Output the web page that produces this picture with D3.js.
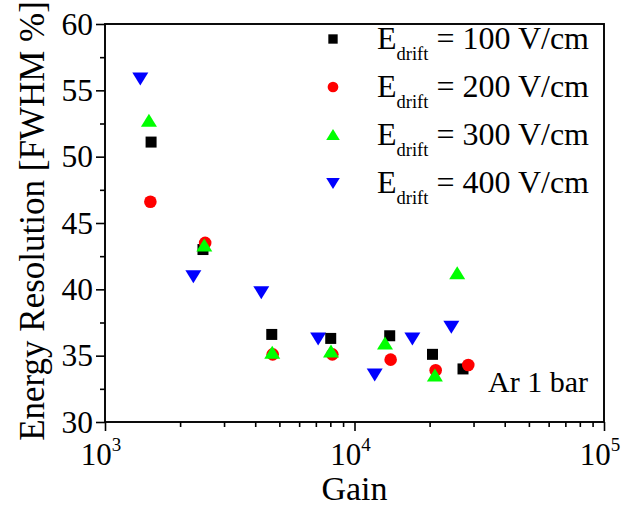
<!DOCTYPE html>
<html>
<head>
<meta charset="utf-8">
<script src="https://cdn.jsdelivr.net/npm/d3@7"></script>
<style>
  html, body { margin: 0; padding: 0; background: #fff; }
  svg { display: block; font-family: "Liberation Serif", "Times New Roman", serif; }
</style>
</head>
<body>
<svg id="chart" width="624" height="506"></svg>
<script>
// Energy resolution vs. gain at four drift fields (Ar, 1 bar)
const fields = [100, 200, 300, 400];
const gain100 = [1530, 2470, 4660, 8030, 13840, 20540, 27220];
const res100  = [51.1, 43.0, 36.6, 36.3, 36.5, 35.1, 34.0];
const gain200 = [1520, 2520, 4700, 8150, 13960, 21150, 28570];
const res200  = [46.6, 43.5, 35.1, 35.1, 34.7, 33.9, 34.3];
const gain300 = [1500, 2500, 4680, 8050, 13250, 21000, 25800];
const res300  = [52.7, 43.3, 35.2, 35.3, 35.9, 33.5, 41.2];
const gain400 = [1385, 2260, 4230, 7150, 12050, 17060, 24440];
const res400  = [55.9, 41.0, 39.8, 36.3, 33.6, 36.3, 37.2];

const xMajor = [1e3, 1e4, 1e5];
const xExponents = [3, 4, 5];
const yMajor = [30, 35, 40, 45, 50, 55, 60];

const series = [
  { field: fields[3], gain: gain400, res: res400, shape: "down",   color: "#0000ff" },
  { field: fields[0], gain: gain100, res: res100, shape: "square", color: "#000000" },
  { field: fields[1], gain: gain200, res: res200, shape: "circle", color: "#ff0000" },
  { field: fields[2], gain: gain300, res: res300, shape: "up",     color: "#00ff00" }
];
const legendOrder = [1, 2, 3, 0];

const svg = d3.select("#chart");
const L = 105, R = 604, T = 24, B = 422;

const x = d3.scaleLog().domain([1e3, 1e5]).range([L, R]);
const y = d3.scaleLinear().domain([30, 60]).range([B, T]);

// minor tick values
const xMinor = [];
[1e3, 1e4].forEach(d => { for (let k = 2; k <= 9; k++) xMinor.push(d * k); });
const yMinor = d3.range(32.5, 60, 5);

const axisStyle = g => {
  g.select(".domain").remove();
  g.selectAll(".tick line").attr("stroke", "#000").attr("stroke-width", 1.6);
  g.selectAll(".tick text").remove();
};

svg.append("g").attr("transform", `translate(0,${B})`)
  .call(d3.axisBottom(x).tickValues(xMajor).tickSize(9).tickFormat(""))
  .call(axisStyle);
svg.append("g").attr("transform", `translate(0,${B})`)
  .call(d3.axisBottom(x).tickValues(xMinor).tickSize(5).tickFormat(""))
  .call(axisStyle);
svg.append("g").attr("transform", `translate(${L},0)`)
  .call(d3.axisLeft(y).tickValues(yMajor).tickSize(9).tickFormat(""))
  .call(axisStyle);
svg.append("g").attr("transform", `translate(${L},0)`)
  .call(d3.axisLeft(y).tickValues(yMinor).tickSize(5).tickFormat(""))
  .call(axisStyle);

// frame
svg.append("rect")
  .attr("x", L).attr("y", T).attr("width", R - L).attr("height", B - T)
  .attr("fill", "none").attr("stroke", "#000").attr("stroke-width", 1.9);

// y tick labels
svg.append("g").selectAll("text").data(yMajor).join("text")
  .attr("x", L - 12).attr("y", d => y(d) + 10.5)
  .attr("text-anchor", "end").attr("font-size", 31.5).attr("fill", "#000")
  .text(d => d);

// x tick labels with superscript exponents
const xl = svg.append("g").selectAll("text").data(xMajor).join("text")
  .attr("x", d => x(d) - 4).attr("y", B + 43)
  .attr("text-anchor", "middle").attr("font-size", 31).attr("fill", "#000");
xl.append("tspan").text("10");
xl.append("tspan").attr("font-size", 19).attr("dy", -14).text((d, i) => xExponents[i]);

// axis titles
svg.append("text")
  .attr("x", (L + R) / 2).attr("y", 500)
  .attr("text-anchor", "middle").attr("font-size", 34).attr("fill", "#000")
  .text("Gain");
svg.append("text")
  .attr("transform", `translate(44,${(T + B) / 2 - 2}) rotate(-90)`)
  .attr("text-anchor", "middle").attr("font-size", 35).attr("fill", "#000")
  .text("Energy Resolution [FWHM %]");

// marker shapes
function markerPath(shape, s) {
  if (shape === "square") {
    const h = 5.5 * s;
    return `M${-h},${-h}H${h}V${h}H${-h}Z`;
  }
  if (shape === "up") {
    const w = 8 * s, h = 13 * s;
    return `M0,${-h * 0.55}L${w},${h * 0.45}L${-w},${h * 0.45}Z`;
  }
  if (shape === "down") {
    const w = 8 * s, h = 13 * s;
    return `M0,${h * 0.55}L${w},${-h * 0.45}L${-w},${-h * 0.45}Z`;
  }
  return null;
}
function drawMarker(g, shape, color, cx, cy, s) {
  if (shape === "circle") {
    g.append("circle").attr("cx", cx).attr("cy", cy).attr("r", 6.3 * s).attr("fill", color);
  } else {
    g.append("path").attr("d", markerPath(shape, s))
      .attr("transform", `translate(${cx},${cy})`).attr("fill", color);
  }
}

// data points
const pts = svg.append("g");
series.forEach(sr => {
  sr.gain.forEach((gv, i) => drawMarker(pts, sr.shape, sr.color, x(gv), y(sr.res[i]), 1));
});

// legend
const lg = svg.append("g");
legendOrder.forEach((si, row) => {
  const sr = series[si];
  const by = 49 + row * 48;
  drawMarker(lg, sr.shape, sr.color, 333, by - 10, 0.85);
  const t = lg.append("text").attr("x", 377).attr("y", by)
    .attr("font-size", 32).attr("fill", "#000");
  t.append("tspan").text("E");
  t.append("tspan").attr("font-size", 18.5).attr("dy", 11).text("drift");
  t.append("tspan").attr("dy", -11).text(` = ${sr.field} V/cm`);
});

// condition note
svg.append("text")
  .attr("x", 588).attr("y", 392)
  .attr("text-anchor", "end").attr("font-size", 30).attr("fill", "#000")
  .text("Ar 1 bar");
</script>
</body>
</html>
